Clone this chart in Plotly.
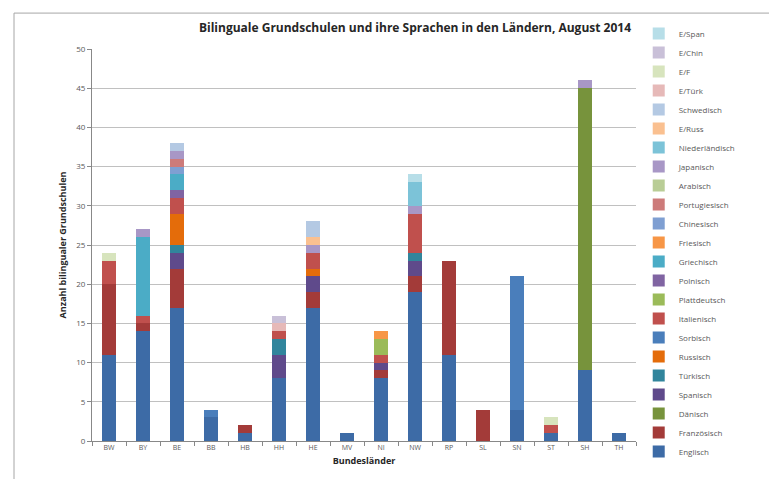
import plotly.graph_objects as go

# ---- data ----
laender = ["BW", "BY", "BE", "BB", "HB", "HH", "HE", "MV", "NI", "NW", "RP", "SL", "SN", "ST", "SH", "TH"]

englisch       = [11, 14, 17, 3, 1, 8, 17, 1, 8, 19, 11, 0, 4, 1, 9, 1]
franzoesisch   = [9, 1, 5, 0, 1, 0, 2, 0, 1, 2, 12, 4, 0, 0, 0, 0]
daenisch       = [0, 0, 0, 0, 0, 0, 0, 0, 0, 0, 0, 0, 0, 0, 36, 0]
spanisch       = [0, 0, 2, 0, 0, 3, 2, 0, 1, 2, 0, 0, 0, 0, 0, 0]
tuerkisch      = [0, 0, 1, 0, 0, 2, 0, 0, 0, 1, 0, 0, 0, 0, 0, 0]
russisch       = [0, 0, 4, 0, 0, 0, 1, 0, 0, 0, 0, 0, 0, 0, 0, 0]
sorbisch       = [0, 0, 0, 1, 0, 0, 0, 0, 0, 0, 0, 0, 17, 0, 0, 0]
italienisch    = [3, 1, 2, 0, 0, 1, 2, 0, 1, 5, 0, 0, 0, 1, 0, 0]
plattdeutsch   = [0, 0, 0, 0, 0, 0, 0, 0, 2, 0, 0, 0, 0, 0, 0, 0]
polnisch       = [0, 0, 1, 0, 0, 0, 0, 0, 0, 0, 0, 0, 0, 0, 0, 0]
griechisch     = [0, 10, 2, 0, 0, 0, 0, 0, 0, 0, 0, 0, 0, 0, 0, 0]
friesisch      = [0, 0, 0, 0, 0, 0, 0, 0, 1, 0, 0, 0, 0, 0, 0, 0]
chinesisch     = [0, 0, 1, 0, 0, 0, 0, 0, 0, 0, 0, 0, 0, 0, 0, 0]
portugiesisch  = [0, 0, 1, 0, 0, 0, 0, 0, 0, 0, 0, 0, 0, 0, 0, 0]
arabisch       = [0, 0, 0, 0, 0, 0, 0, 0, 0, 0, 0, 0, 0, 0, 0, 0]
japanisch      = [0, 1, 1, 0, 0, 0, 1, 0, 0, 1, 0, 0, 0, 0, 1, 0]
niederlaendisch = [0, 0, 0, 0, 0, 0, 0, 0, 0, 3, 0, 0, 0, 0, 0, 0]
e_russ         = [0, 0, 0, 0, 0, 0, 1, 0, 0, 0, 0, 0, 0, 0, 0, 0]
schwedisch     = [0, 0, 1, 0, 0, 0, 2, 0, 0, 0, 0, 0, 0, 0, 0, 0]
e_tuerk        = [0, 0, 0, 0, 0, 1, 0, 0, 0, 0, 0, 0, 0, 0, 0, 0]
e_f            = [1, 0, 0, 0, 0, 0, 0, 0, 0, 0, 0, 0, 0, 1, 0, 0]
e_chin         = [0, 0, 0, 0, 0, 1, 0, 0, 0, 0, 0, 0, 0, 0, 0, 0]
e_span         = [0, 0, 0, 0, 0, 0, 0, 0, 0, 1, 0, 0, 0, 0, 0, 0]

series = [
    ("Englisch", englisch, "#3D6BA6"),
    ("Französisch", franzoesisch, "#A33B39"),
    ("Dänisch", daenisch, "#77933C"),
    ("Spanisch", spanisch, "#5F4A8B"),
    ("Türkisch", tuerkisch, "#31859C"),
    ("Russisch", russisch, "#E46C0A"),
    ("Sorbisch", sorbisch, "#4A7EBB"),
    ("Italienisch", italienisch, "#C0504D"),
    ("Plattdeutsch", plattdeutsch, "#9BBB59"),
    ("Polnisch", polnisch, "#8064A2"),
    ("Griechisch", griechisch, "#4BACC6"),
    ("Friesisch", friesisch, "#F79646"),
    ("Chinesisch", chinesisch, "#7F9FD2"),
    ("Portugiesisch", portugiesisch, "#CD7B7A"),
    ("Arabisch", arabisch, "#B9CD96"),
    ("Japanisch", japanisch, "#A897C6"),
    ("Niederländisch", niederlaendisch, "#7CC3D8"),
    ("E/Russ", e_russ, "#FAC090"),
    ("Schwedisch", schwedisch, "#B4C9E3"),
    ("E/Türk", e_tuerk, "#E6B9B8"),
    ("E/F", e_f, "#D7E4BD"),
    ("E/Chin", e_chin, "#C9C0D8"),
    ("E/Span", e_span, "#B7DEE8"),
]

FONT = "Open Sans"

fig = go.Figure()
for name, vals, col in series:
    fig.add_trace(go.Bar(
        x=laender, y=vals, name=name,
        marker=dict(color=col, line=dict(width=0)),
    ))

fig.update_layout(
    width=777, height=479,
    barmode="stack",
    bargap=0.59,
    plot_bgcolor="white",
    paper_bgcolor="white",
    margin=dict(l=84, r=149, t=40, b=46),
    font=dict(family=FONT, size=9, color="#404040"),
    title=dict(
        text="<b>Bilinguale Grundschulen und ihre Sprachen in den Ländern, August 2014</b>",
        x=407 / 777, xanchor="center", y=1 - 20 / 479, yanchor="middle",
        font=dict(family=FONT, size=12, color="#262626"),
    ),
    legend=dict(
        traceorder="reversed",
        x=1.005, xanchor="left", y=(433 - 11) / 393, yanchor="top",
        font=dict(family=FONT, size=8, color="#595959"),
        bgcolor="rgba(0,0,0,0)",
        itemwidth=30,
        tracegroupgap=0,
        maxheight=470,
    ),
    xaxis=dict(
        title=dict(text="<b>Bundesländer</b>", font=dict(size=9, color="#262626"), standoff=6),
        showline=True, linecolor="#888888", linewidth=1,
        ticks="outside", tickson="boundaries", ticklen=4, tickcolor="#888888",
        tickfont=dict(size=7, color="#595959"),
        showgrid=False,
    ),
    yaxis=dict(
        title=dict(text="<b>Anzahl bilingualer Grundschulen</b>", font=dict(size=9, color="#262626"), standoff=8),
        range=[0, 50], dtick=5,
        showline=True, linecolor="#888888", linewidth=1,
        ticks="outside", ticklen=4, tickcolor="#888888",
        tickfont=dict(size=8, color="#595959"),
        showgrid=True, gridcolor="#C0C0C0", gridwidth=1,
        zeroline=False,
    ),
    shapes=[dict(
        type="rect", xref="paper", yref="paper",
        x0=(6 - 84) / 544, x1=(772 - 84) / 544,
        y0=(433 - 474) / 393, y1=(433 - 4) / 393,
        line=dict(color="#A6A6A6", width=1), fillcolor="rgba(0,0,0,0)",
    )],
)

fig.write_html("out.html")
